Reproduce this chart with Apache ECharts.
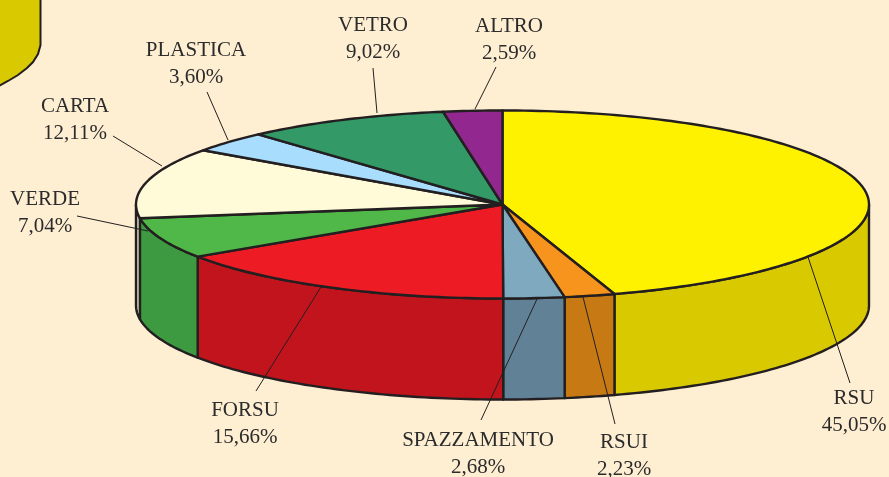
<!DOCTYPE html>
<html>
<head>
<meta charset="utf-8">
<title>Composizione rifiuti</title>
<script src="https://cdn.jsdelivr.net/npm/echarts@6/dist/echarts.min.js"></script>
<style>
  html, body { margin: 0; padding: 0; background: #feeed2; }
  #chart { width: 889px; height: 477px; }
</style>
</head>
<body>
<div id="chart"></div>
<script>
// data, clockwise from 12 o'clock
const names = ["RSU", "RSUI", "SPAZZAMENTO", "FORSU", "VERDE", "CARTA", "PLASTICA", "VETRO", "ALTRO"];
const values = [45.05, 2.23, 2.68, 15.66, 7.04, 12.11, 3.6, 9.02, 2.59];

// colours
const topColors = ["#fff200", "#f7941d", "#7fa9bf", "#ed1c24", "#4fb848", "#fffad8", "#a8ddfd", "#339966", "#92278f"];
const sideColors = ["#d9c900", "#c77a14", "#618296", "#c1141c", "#3d9a40", "#d9d4b5", "#a8ddfd", "#339966", "#92278f"];
const ink = "#231f20";

// layout of the tilted disc
const cx = 502.5, cy = 204.5, rx = 366.5, ry = 94, depth = 101;

// label centres and leader lines, by slice
const labelPos = [[854, 412], [624, 456], [478, 454], [245, 424], [45, 213], [75, 120], [196, 64], [373, 39], [509, 40]];
const leaders = [
  [[850, 383], [808, 257]],
  [[615, 424], [583, 297]],
  [[481, 420], [537, 299]],
  [[256, 391], [321, 287]],
  [[77, 216], [148, 231]],
  [[113, 136], [162, 166]],
  [[207, 92], [228, 140]],
  [[373, 68], [377, 113]],
  [[496, 67], [475, 109]],
];

// corner of the panel cut off by the page
const panelCorner = [[-3, -3], [40.5, -3], [40.5, 45], [38, 54], [33, 62], [27, 68], [18, 75], [8, 81], [-3, 87]];

const total = values.reduce((a, b) => a + b, 0);
const cumul = [0];
values.forEach((v, i) => cumul.push(cumul[i] + v));

// cumulative value -> radians clockwise from the top
const toAngle = (v) => echarts.number.linearMap(v, [0, total], [0, Math.PI * 2]);
const rim = (a, drop) => [cx + rx * Math.sin(a), cy - ry * Math.cos(a) + (drop || 0)];

function arcPoints(a0, a1, drop) {
  const steps = Math.max(2, Math.ceil((a1 - a0) / 0.02));
  const pts = [];
  for (let i = 0; i <= steps; i++) {
    pts.push(rim(a0 + ((a1 - a0) * i) / steps, drop));
  }
  return pts;
}

function renderSide(params, api) {
  const i = params.dataIndex;
  // only the front half of the wall can be seen
  const a0 = Math.max(toAngle(cumul[i]), Math.PI / 2);
  const a1 = Math.min(toAngle(cumul[i] + api.value(0)), Math.PI * 1.5);
  if (a1 <= a0) return null;
  const pts = arcPoints(a0, a1, 0).concat(arcPoints(a0, a1, depth).reverse());
  return {
    type: "polygon",
    shape: { points: pts },
    style: { fill: sideColors[i], stroke: ink, lineWidth: 2.4, lineJoin: "round" },
  };
}

function renderTop(params, api) {
  const i = params.dataIndex;
  const a0 = toAngle(cumul[i]);
  const a1 = toAngle(cumul[i] + api.value(0));
  const pts = [[cx, cy]].concat(arcPoints(a0, a1, 0));
  return {
    type: "polygon",
    shape: { points: pts },
    style: { fill: topColors[i], stroke: ink, lineWidth: 2.4, lineJoin: "round" },
  };
}

function renderLabel(params, api) {
  const i = params.dataIndex;
  const pct = api.value(0).toFixed(2).replace(".", ",") + "%";
  const l = leaders[i];
  return {
    type: "group",
    children: [
      {
        type: "line",
        shape: { x1: l[0][0], y1: l[0][1], x2: l[1][0], y2: l[1][1] },
        style: { stroke: ink, lineWidth: 1 },
      },
      {
        type: "text",
        style: {
          text: names[i] + "\n" + pct,
          x: labelPos[i][0],
          y: labelPos[i][1],
          align: "center",
          verticalAlign: "middle",
          font: '21px "Liberation Serif"',
          lineHeight: 27.5,
          fill: "#2b2b2b",
        },
      },
    ],
  };
}

const chart = echarts.init(document.getElementById("chart"), null, { renderer: "canvas" });
chart.setOption({
  backgroundColor: "#feeed2",
  animation: false,
  graphic: [
    {
      type: "polygon",
      shape: { points: panelCorner },
      style: { fill: "#d9c900", stroke: ink, lineWidth: 2 },
    },
  ],
  series: [
    { type: "custom", coordinateSystem: "none", z: 2, silent: true, renderItem: renderSide, data: values.map((v) => [v]) },
    { type: "custom", coordinateSystem: "none", z: 3, silent: true, renderItem: renderTop, data: values.map((v) => [v]) },
    { type: "custom", coordinateSystem: "none", z: 4, silent: true, renderItem: renderLabel, data: values.map((v) => [v]) },
  ],
});
</script>
</body>
</html>
